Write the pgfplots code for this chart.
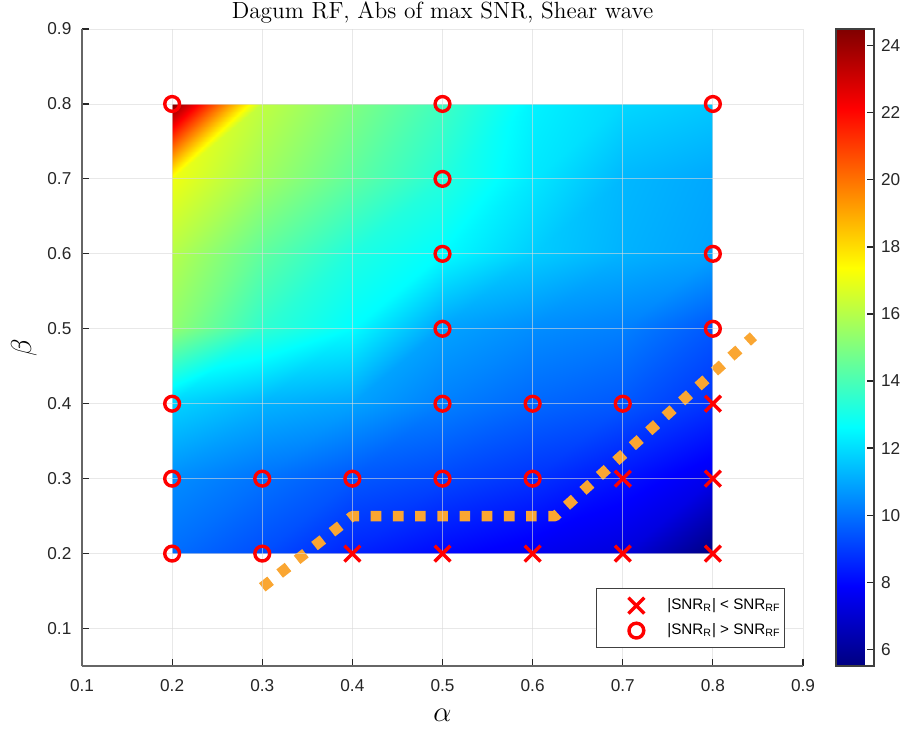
\documentclass[border=0pt]{standalone}
\usepackage{fontspec}
\setsansfont{Liberation Sans}
\usepackage{pgfplots}
\usepackage{pgfplotstable}
\pgfplotsset{compat=1.18}
\definecolor{axgray}{RGB}{38,38,38}
\definecolor{dashorange}{RGB}{250,166,50}
\pgfplotsset{mylegimg/.style={legend image code/.code={\path[draw=none, fill=none] (0cm,-1pt) rectangle (0.98cm,1pt); \draw[##1] plot coordinates {(0.7cm,0cm)};}}}

% grid values: alpha = 0.2..0.8 (fast), beta = 0.2..0.8
\pgfplotstableread{
x y z
0.2 0.2 9.9
0.3 0.2 9.3
0.4 0.2 8.5
0.5 0.2 8.0
0.6 0.2 7.6
0.7 0.2 7.2
0.8 0.2 5.5
0.2 0.3 10.5
0.3 0.3 10.0
0.4 0.3 9.5
0.5 0.3 9.2
0.6 0.3 8.8
0.7 0.3 8.2
0.8 0.3 7.5
0.2 0.4 11.8
0.3 0.4 11.2
0.4 0.4 10.9
0.5 0.4 10.25
0.6 0.4 9.8
0.7 0.4 9.5
0.8 0.4 8.8
0.2 0.5 15.3
0.3 0.5 13.5
0.4 0.5 12.6
0.5 0.5 10.9
0.6 0.5 10.5
0.7 0.5 10.25
0.8 0.5 9.5
0.2 0.6 16.0
0.3 0.6 14.4
0.4 0.6 13.2
0.5 0.6 12.6
0.6 0.6 11.7
0.7 0.6 11.2
0.8 0.6 10.9
0.2 0.7 17.1
0.3 0.7 15.6
0.4 0.7 14.4
0.5 0.7 13.3
0.6 0.7 12.2
0.7 0.7 11.3
0.8 0.7 11.0
0.2 0.8 24.5
0.3 0.8 16.2
0.4 0.8 15.0
0.5 0.8 13.8
0.6 0.8 12.4
0.7 0.8 11.9
0.8 0.8 11.6
}\surfdata

\begin{document}
\begin{tikzpicture}
\useasboundingbox (-41pt,-31.5pt) rectangle (411pt,333pt);
\begin{axis}[
  at={(0,0)}, anchor=south west,
  scale only axis, width=360.5pt, height=318.5pt,
  xmin=0.1, xmax=0.9, ymin=0.05, ymax=0.9,
  xtick={0.1,0.2,0.3,0.4,0.5,0.6,0.7,0.8,0.9},
  ytick={0.1,0.2,0.3,0.4,0.5,0.6,0.7,0.8,0.9},
  /pgf/number format/.cd, fixed, fixed zerofill, precision=1, assume math mode=true, /pgfplots/.cd,
  tick label style={font=\sffamily\fontsize{8.6}{10}\selectfont, text=axgray},
  xticklabel style={yshift=-3pt},
  yticklabel style={xshift=-1.8pt},
  axis x line*=bottom, axis y line*=left,
  axis line style={black!60, line width=0.6pt},
  tick align=inside, major tick length=3.5pt,
  tick style={axgray, line width=0.6pt},
  grid=major,
  major grid style={gray!30, line width=0.45pt, opacity=0.6},
  axis on top,
  title={Dagum RF, Abs of max SNR, Shear wave},
  title style={font=\fontsize{11.7}{14}\selectfont, at={(0.5,1)}, anchor=base, yshift=-0.5pt},
  xlabel={$\alpha$}, ylabel={$\beta$},
  label style={font=\fontsize{14}{16}\selectfont},
  xlabel style={at={(0.5,0)}, anchor=center, yshift=-24.5pt},
  ylabel style={at={(0,0.5)}, anchor=center, yshift=29pt},
  colormap/jet,
  point meta min=5.5, point meta max=24.5,
  colorbar,
  colorbar style={
    at={(parent axis.north east)}, anchor=north west, xshift=8pt,
    width=19pt,
    ytick={6,8,10,12,14,16,18,20,22,24},
    yticklabel pos=right, ytick pos=right,
    tick align=inside, major tick length=3.5pt,
    tick style={axgray, line width=0.6pt},
    axis line style={black!75, line width=0.6pt},
    yticklabel style={font=\sffamily\fontsize{8.6}{10}\selectfont, text=axgray},
    /pgf/number format/assume math mode=true,
  },
  legend style={at={(1,0)}, anchor=south east, xshift=-9pt, yshift=9pt,
    draw=black!75, line width=0.4pt, fill=white,
    font=\sffamily\fontsize{7.6}{9}\selectfont,
    inner xsep=0pt, inner ysep=3pt, row sep=1.5pt,
    /tikz/every odd column/.append style={column sep=5.5pt}},
  legend cell align=left,
]
\addplot[patch, patch type=triangle, shader=interp,
  /pgfplots/table/row sep=\\,
  patch table={0 1 8\\0 8 7\\1 2 9\\1 9 8\\2 3 10\\2 10 9\\3 4 11\\3 11 10\\4 5 12\\4 12 11\\5 6 13\\5 13 12\\
  7 8 15\\7 15 14\\8 9 16\\8 16 15\\9 10 17\\9 17 16\\10 11 18\\10 18 17\\11 12 19\\11 19 18\\12 13 20\\12 20 19\\
  14 15 22\\14 22 21\\15 16 23\\15 23 22\\16 17 24\\16 24 23\\17 18 25\\17 25 24\\18 19 26\\18 26 25\\19 20 27\\19 27 26\\
  21 22 29\\21 29 28\\22 23 30\\22 30 29\\23 24 31\\23 31 30\\24 25 32\\24 32 31\\25 26 33\\25 33 32\\26 27 34\\26 34 33\\
  28 29 36\\28 36 35\\29 30 37\\29 37 36\\30 31 38\\30 38 37\\31 32 39\\31 39 38\\32 33 40\\32 40 39\\33 34 41\\33 41 40\\
  35 36 43\\35 43 42\\36 37 44\\36 44 43\\37 38 45\\37 45 44\\38 39 46\\38 46 45\\39 40 47\\39 47 46\\40 41 48\\40 48 47\\},
  point meta=explicit, forget plot]
  table[x=x, y=y, meta=z] {\surfdata};

\addplot[dashorange, line width=5.3pt, dash pattern=on 5.3pt off 5.8pt, line join=round, forget plot]
  coordinates {(0.3,0.155) (0.4,0.25) (0.625,0.25) (0.845,0.49)};

\addplot[only marks, red, mark=x, mark size=5.6pt, mark options={line width=1.7pt, solid}, mylegimg]
  coordinates {(0.8,0.4) (0.7,0.3) (0.8,0.3) (0.4,0.2) (0.5,0.2) (0.6,0.2) (0.7,0.2) (0.8,0.2)};
\addlegendentry{|SNR\textsubscript{R}| < SNR\textsubscript{RF}}

\addplot[only marks, red, mark=o, mark size=3.7pt, mark options={line width=1.7pt, solid}, mylegimg]
  coordinates {(0.2,0.8) (0.5,0.8) (0.8,0.8) (0.5,0.7) (0.5,0.6) (0.8,0.6) (0.5,0.5) (0.8,0.5)
    (0.2,0.4) (0.5,0.4) (0.6,0.4) (0.7,0.4) (0.2,0.3) (0.3,0.3) (0.4,0.3) (0.5,0.3) (0.6,0.3)
    (0.2,0.2) (0.3,0.2)};
\addlegendentry{|SNR\textsubscript{R}| > SNR\textsubscript{RF}}
\end{axis}
\end{tikzpicture}
\end{document}
